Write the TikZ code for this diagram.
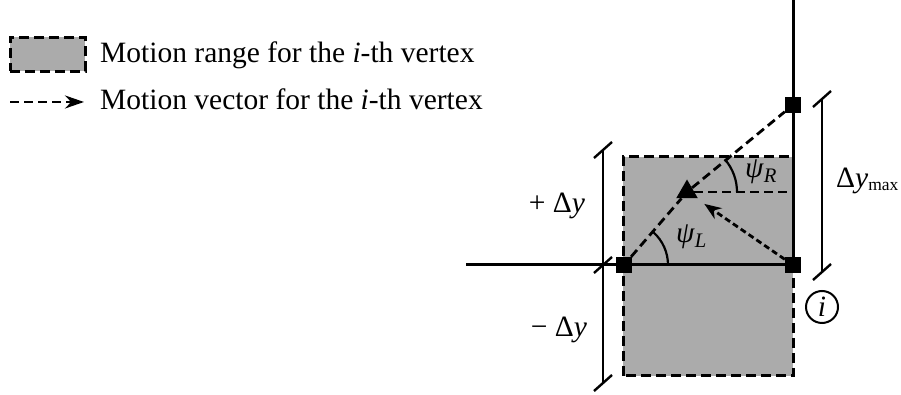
\documentclass[tikz,border=0pt]{standalone}
\usepackage{fontspec}
\setmainfont{Liberation Serif}
\usepackage{tikz}
\usetikzlibrary{shapes.geometric,arrows.meta,positioning}

\begin{document}
\begin{tikzpicture}[x=1pt,y=1pt,
		motion-range/.style={fill=black!33, draw=black, line width=3pt, dash pattern=on 10pt off 5pt},
		axis-line/.style={line width=3pt},
		motion-path/.style={line width=2.8pt, dash pattern=on 9pt off 5pt},
		motion-vector/.style={line width=2.8pt, dash pattern=on 6pt off 3.5pt,
		-{Stealth[length=17pt,width=13pt]}},
		vertex/.style={rectangle, fill=black, minimum size=16pt, inner sep=0pt},
		moved-vertex/.style={regular polygon, regular polygon sides=3, fill=black,
		minimum size=25pt, inner sep=0pt},
		dim-line/.style={line width=2.4pt},
		angle-arc/.style={line width=2.2pt},
		label-text/.style={font=\fontsize{29.5}{34}\selectfont, inner sep=0pt},
		]

		\newcommand\dimtick[1]{\draw[dim-line] ([shift={(-9,-8)}]#1) -- ([shift={(9,8)}]#1);}

		\useasboundingbox (0,0) rectangle (901,395);

		% legends
		\node[motion-range, minimum width=75pt, minimum height=34pt, inner sep=0pt]
		(key-range) at (47.5,340.5) {};
		\node[label-text, anchor=base west] (key-range-text) at (100,332)
		{Motion range for the \textit{i}-th vertex};

		\coordinate (key-vec-start) at (10,293);
		\coordinate (key-vec-end) at (84,293);
		\draw[motion-path, -{Stealth[length=19pt,width=13pt]}] (key-vec-start) -- (key-vec-end);
		\node[label-text, anchor=base west] (key-vec-text) at (100,285)
		{Motion vector for the \textit{i}-th vertex};

		% motion range of the vertex
		\draw[motion-range] (623,19) rectangle (793,238);

		\node[vertex]       (v-left)  at (624,130) {};
		\node[vertex]       (v-right) at (793,130) {};
		\node[vertex]       (v-top)   at (793,290) {};
		\node[moved-vertex] (v-new)   at (687,203) {};

		\coordinate (axis-start) at (466,130);
		\coordinate (axis-end)   at (793,395);
		\coordinate (ref-r)      at (793,203);

		\draw[axis-line] (axis-start) -- (v-right);
		\draw[axis-line] (v-right) -- (axis-end);

		\draw[motion-path] (v-left) -- (v-new);
		\draw[motion-path] (v-new) -- (v-top);
		\draw[motion-path] (v-new) -- (ref-r);
		\draw[motion-vector, shorten >=21pt] (v-right) -- (v-new.center);

		% angles
		\draw[angle-arc] ([xshift=44pt]v-left.center) arc[start angle=0, end angle=48, radius=44];
		\draw[angle-arc] ([xshift=50pt]v-new.center) arc[start angle=0, end angle=40, radius=50];
		\node[label-text, anchor=base west] (psi-l) at (676,152) {\textit{ψ}\textsubscript{\textit{L}}};
		\node[label-text, anchor=base west] (psi-r) at (745,217) {\textit{ψ}\textsubscript{\textit{R}}};

		% dimensions
		\coordinate (dim-up)    at (603,245);
		\coordinate (dim-mid)   at (603,130);
		\coordinate (dim-down)  at (603,12);
		\coordinate (dmax-up)   at (822,296);
		\coordinate (dmax-down) at (822,123);

		\draw[dim-line] (dim-up) -- (dim-down);
		\dimtick{dim-up}
		\dimtick{dim-mid}
		\dimtick{dim-down}
		\draw[dim-line] (dmax-up) -- (dmax-down);
		\dimtick{dmax-up}
		\dimtick{dmax-down}

		\node[label-text, anchor=base] (plus-dy)  at (557,182) {+ Δ\textit{y}};
		\node[label-text, anchor=base] (minus-dy) at (559,58)  {− Δ\textit{y}};
		\node[label-text, anchor=base west] (dy-max) at (836,207)
		{Δ\textit{y}\raisebox{-3pt}{\fontsize{17.5}{20}\selectfont max}};

		\node[circle, draw, line width=2pt, minimum size=32pt, inner sep=0pt,
		font=\fontsize{29.5}{34}\selectfont] (vertex-index) at (822,88) {\textit{i}};

	\end{tikzpicture}
\end{document}
